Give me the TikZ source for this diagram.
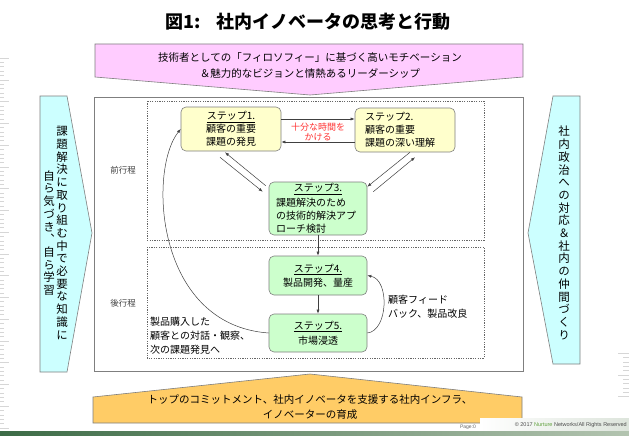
\documentclass[tikz,border=0pt]{standalone}
\usepackage{fontspec}
\setmainfont{Noto Sans CJK JP}
\newfontfamily\vjp[RawFeature=+vert]{Noto Sans CJK JP}
\newfontfamily\latf{Liberation Sans}
\usetikzlibrary{arrows.meta}
\definecolor{pinkf}{HTML}{FFCCFF}
\definecolor{cyanf}{HTML}{CCFFFF}
\definecolor{orangef}{HTML}{FFCC66}
\definecolor{yellowf}{HTML}{FFFFCC}
\definecolor{greenf}{HTML}{CCFFCC}
\definecolor{edgec}{HTML}{7F7F7F}
\definecolor{redt}{HTML}{FF3333}
\definecolor{nurt}{HTML}{5FA03C}
\definecolor{bardark}{HTML}{3C6B46}
\definecolor{barlight}{HTML}{B3C4B0}
\definecolor{rulc}{HTML}{D6D6D6}
\tikzset{
  bigarrow/.style={draw=edgec, line width=0.6pt},
  stepbox/.style={draw=edgec, line width=0.6pt, rounded corners=5pt,
    font=\fontsize{10}{13}\selectfont, inner sep=0pt},
  arr/.style={draw=black!75, line width=0.5pt, -{Latex[length=4pt,width=3pt]}},
  phase/.style={draw=black!60, line width=0.5pt, dash pattern=on 1.2pt off 1.2pt},
  lbl/.style={font=\fontsize{10}{14}\selectfont, align=left, inner sep=0pt},
  vtext/.style={font=\vjp\fontsize{11.5}{12.7}\selectfont, align=center, inner sep=0pt},
  rul/.style={draw=rulc, line width=0.4pt},
}
\begin{document}
\begin{tikzpicture}[x=1pt,y=-1pt]
\useasboundingbox (0,0) rectangle (629,436);
\fill[white] (0,0) rectangle (629,436);

% ruler ticks
\foreach \i in {0,...,85}{
  \pgfmathsetmacro\L{mod(\i,5)==0 ? 9 : 4}
  \draw[rul] (0,{58+\i*4.35}) -- ++(\L,0);
}
\foreach \i in {0,...,10}{
  \pgfmathsetmacro\L{mod(\i,5)==0 ? 11 : 6}
  \draw[rul] (629,{353+\i*4.35}) -- ++(-\L,0);
}

% title
\node[font=\fontsize{18}{21}\selectfont\bfseries] (title) at (308,22) {図1:\hspace{0.9em}社内イノベータの思考と行動};

% main frame
\draw[draw=edgec, line width=0.8pt] (94,97) rectangle (523,371);

% top pink arrow
\draw[bigarrow, fill=pinkf] (95,44) -- (523,44) -- (523,77) -- (310,95) -- (95,77) -- cycle;
\node[font=\fontsize{10.5}{16.5}\selectfont, align=center] (toptext) at (310,65.5)
  {技術者としての「フィロソフィー」に基づく高いモチベーション\\＆魅力的なビジョンと情熱あるリーダーシップ};

% bottom orange arrow
\draw[bigarrow, fill=orangef] (93,423) -- (522,423) -- (522,397) -- (310,374) -- (93,397) -- cycle;
\node[font=\fontsize{10.5}{15}\selectfont, align=center] (bottext) at (310,407.5)
  {トップのコミットメント、社内イノベータを支援する社内インフラ、\\イノベーターの育成};

% left cyan arrow
\draw[bigarrow, fill=cyanf] (40,96) -- (67,96) -- (92,233) -- (67,372) -- (40,372) -- cycle;
\node[vtext] (lv1) at (62,233) {課\\題\\解\\決\\に\\取\\り\\組\\む\\中\\で\\必\\要\\な\\知\\識\\に};
\node[vtext] (lv2) at (49,233) {自\\ら\\気\\づ\\き\\、\\自\\ら\\学\\習};

% right cyan arrow
\draw[bigarrow, fill=cyanf] (580,96) -- (553,96) -- (528,233) -- (553,364) -- (580,364) -- cycle;
\node[vtext] (rv) at (564,233) {社\\内\\政\\治\\へ\\の\\対\\応\\＆\\社\\内\\の\\仲\\間\\づ\\く\\り};

% phase boxes
\draw[phase] (147,101) rectangle (484,240);
\draw[phase] (147,247) rectangle (484,358);
\node[font=\fontsize{8.5}{10}\selectfont, text=black!75] (zen) at (123,170) {前行程};
\node[font=\fontsize{8.5}{10}\selectfont, text=black!75] (kou) at (123,303) {後行程};

% steps
\node[stepbox, fill=yellowf, minimum width=100pt, minimum height=44pt, align=center] (s1) at (231,129)
  {\underline{ステップ1.}\\顧客の重要\\課題の発見};
\node[stepbox, fill=yellowf, minimum width=100pt, minimum height=44pt, text width=80pt, align=left] (s2) at (405,130)
  {ステップ2.\\顧客の重要\\課題の深い理解};
\node[stepbox, fill=greenf, minimum width=98pt, minimum height=53pt, text width=84pt, align=left] (s3) at (318,208.5)
  {\makebox[84pt]{\underline{ステップ3.}}\\[2pt]課題解決のため\\の技術的解決アプ\\ローチ検討};
\node[stepbox, fill=greenf, minimum width=98pt, minimum height=39pt, align=center] (s4) at (318,275.5)
  {\underline{ステップ4.}\\[1pt]製品開発、量産};
\node[stepbox, fill=greenf, minimum width=98pt, minimum height=38pt, align=center] (s5) at (318,333)
  {\underline{ステップ5.}\\[2pt]市場浸透};

% step1 <-> step2
\draw[arr] ([yshift=10pt]s1.east) -- ([yshift=11pt]s2.west);
\draw[arr] ([yshift=-12pt]s2.west) -- ([yshift=-13pt]s1.east);
\node[font=\fontsize{9}{10}\selectfont, text=redt, align=center] (time) at (318,132) {十分な時間を\\かける};

% step1 <-> step3
\draw[arr] ([xshift=-11pt,yshift=-6pt]s1.south) -- ([xshift=-6pt,yshift=-10pt]s3.north west);
\draw[arr] ([xshift=-3pt,yshift=-4pt]s3.north west) -- ([xshift=-6pt,yshift=-1pt]s1.south);

% step2 <-> step3
\draw[arr] ([xshift=5pt]s2.south) -- ([yshift=-5pt]s3.north east);
\draw[arr] ([xshift=6pt,yshift=-10pt]s3.north east) -- ([xshift=10pt,yshift=-5pt]s2.south);

% vertical flow
\draw[arr] (s3.south) -- (s4.north);
\draw[arr] (s4.south) -- (s5.north);

% loops
\draw[arr] (s5.west) .. controls (155,325) and (148,170) .. (s1.west);
\draw[arr] (s5.east) .. controls (388,331) and (390,280) .. (s4.east);

% side labels
\node[lbl, anchor=west] (fb) at (388,306.5) {顧客フィード\\バック、製品改良};
\node[lbl, anchor=west] (buy) at (150,336) {製品購入した\\顧客との対話・観察、\\次の課題発見へ};

% footer
\shade[left color=white, right color=barlight!45] (480,418) rectangle (629,431);
\shade[left color=bardark, right color=barlight] (0,431) rectangle (629,436);
\node[font=\latf\fontsize{5.5}{6}\selectfont, text=black!70, anchor=east, inner sep=0pt] (copy) at (627,425.5)
  {© 2017 \textcolor{nurt}{Nurture} Networks/All Rights Reserved};
\node[font=\latf\fontsize{5}{6}\selectfont, text=black!60, inner sep=0pt] (page) at (468,427.5) {Page:0};
\end{tikzpicture}
\end{document}
